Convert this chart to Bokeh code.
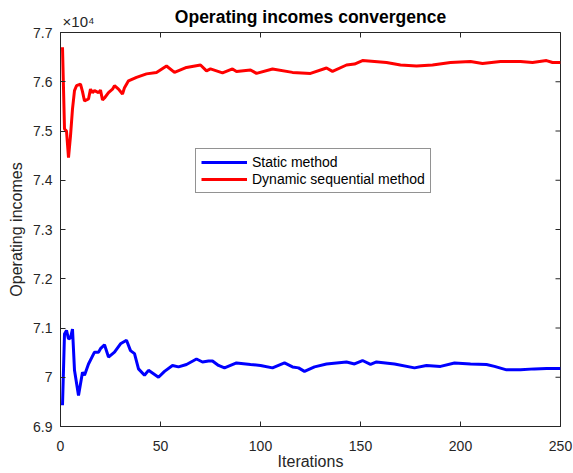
import math
from bokeh.plotting import figure
from bokeh.models import Range1d, FixedTicker, CustomJSTickFormatter, LinearAxis, ColumnDataSource
from bokeh.embed import file_html
from bokeh.resources import INLINE

# ---- data (operating incomes, actual units) ----
static_iter = [1, 2, 3, 4, 5, 6, 7, 9, 11, 12, 14, 17, 19, 20, 22, 24, 27, 30, 33, 35, 37, 39,
               42, 44, 49, 52, 56, 59, 63, 68, 71, 74, 76, 79, 82, 88, 95, 100, 106, 112, 116,
               119, 122, 127, 133, 143, 147, 151, 155, 158, 167, 177, 183, 190, 197, 205, 213,
               217, 223, 230, 237, 243, 250]
static_income = [69430, 70880, 70950, 70780, 70800, 70980, 70140, 69630, 70100, 70040, 70270,
                 70510, 70510, 70580, 70660, 70410, 70510, 70680, 70750, 70540, 70480, 70170,
                 70040, 70140, 70000, 70120, 70240, 70210, 70260, 70370, 70310, 70330, 70330,
                 70240, 70190, 70290, 70260, 70240, 70190, 70290, 70210, 70190, 70120, 70210,
                 70270, 70310, 70270, 70340, 70260, 70310, 70270, 70190, 70240, 70220, 70290,
                 70270, 70260, 70220, 70150, 70150, 70170, 70180, 70180]

dynamic_iter = [1, 2, 3, 4, 5, 6, 7, 8, 10, 11, 12, 14, 15, 16, 17, 19, 20, 21, 22, 24, 26, 27,
                29, 31, 32, 34, 38, 43, 48, 53, 57, 63, 70, 73, 75, 81, 86, 88, 95, 98, 106, 116,
                125, 133, 136, 143, 147, 151, 163, 170, 178, 186, 195, 205, 211, 220, 230, 236,
                243, 246, 250]
dynamic_income = [76700, 75040, 75000, 74460, 74900, 75450, 75820, 75920, 75950, 75800, 75610,
                  75650, 75850, 75780, 75820, 75780, 75830, 75630, 75670, 75780, 75850, 75920,
                  75850, 75750, 75880, 76020, 76090, 76160, 76190, 76320, 76190, 76290, 76340,
                  76220, 76260, 76180, 76260, 76210, 76240, 76170, 76260, 76190, 76170, 76280,
                  76210, 76340, 76360, 76430, 76390, 76340, 76320, 76340, 76390, 76410, 76370,
                  76410, 76410, 76390, 76430, 76390, 76390]

x_ticks = [0, 50, 100, 150, 200, 250]
y_ticks = [69000, 70000, 71000, 72000, 73000, 74000, 75000, 76000, 77000]
x_min, x_max = 0, 250
y_min, y_max = 69000, 77000
title_text = "Operating incomes convergence"

AX = "#262626"
FONT = "Liberation Sans"

p = figure(width=573, height=473, output_backend="svg", toolbar_location=None, title=None,
           x_range=Range1d(x_min, x_max), y_range=Range1d(y_min, y_max),
           min_border_left=60, min_border_right=13, min_border_top=32, min_border_bottom=47,
           background_fill_color="white", border_fill_color="white")
p.grid.visible = False
p.outline_line_color = AX
p.outline_line_width = 1

yfmt = CustomJSTickFormatter(code="return Number((tick/1e4).toFixed(1)).toString();")

for ax in p.xaxis:
    ax.ticker = FixedTicker(ticks=x_ticks)
    ax.axis_label = "Iterations"
for ax in p.yaxis:
    ax.ticker = FixedTicker(ticks=y_ticks)
    ax.formatter = yfmt
    ax.axis_label = "Operating incomes"

for ax in list(p.xaxis) + list(p.yaxis):
    ax.major_tick_in = 5
    ax.major_tick_out = 0
    ax.minor_tick_line_color = None
    ax.axis_line_color = AX
    ax.major_tick_line_color = AX
    ax.major_label_text_font = FONT
    ax.major_label_text_font_size = "14px"
    ax.major_label_text_color = AX
    ax.axis_label_text_font = FONT
    ax.axis_label_text_font_size = "16px"
    ax.axis_label_text_font_style = "normal"
    ax.axis_label_text_color = AX
p.yaxis.major_label_standoff = 8
p.yaxis.axis_label_standoff = 5
p.xaxis.major_label_standoff = 14
p.xaxis.axis_label_standoff = -1

# top axis: exponent note at the top-left corner, and the chart title (same row)
exp_anchor = x_min + 0.036 * (x_max - x_min)
top = LinearAxis(ticker=FixedTicker(ticks=[exp_anchor]),
                 formatter=CustomJSTickFormatter(code="return '\u00d710\u2074';"),
                 major_label_text_font=FONT, major_label_text_font_size="15px",
                 major_label_text_color=AX,
                 major_label_standoff=3, major_tick_in=0, major_tick_out=0,
                 major_tick_line_color=None, minor_tick_line_color=None, axis_line_color=AX,
                 axis_label=title_text, axis_label_standoff=-17,
                 axis_label_text_font=FONT, axis_label_text_font_size="17.5px",
                 axis_label_text_font_style="bold", axis_label_text_color="black")
p.add_layout(top, "above")

# box ticks on top and right edges
p.ray(x=x_ticks, y=[y_max] * len(x_ticks), length=5, length_units="screen",
      angle=-math.pi / 2, line_color=AX, line_width=1)
p.ray(x=[x_max] * len(y_ticks), y=y_ticks, length=5, length_units="screen",
      angle=math.pi, line_color=AX, line_width=1)

src_s = ColumnDataSource(dict(x=static_iter, y=static_income))
src_d = ColumnDataSource(dict(x=dynamic_iter, y=dynamic_income))
p.line("x", "y", source=src_s, line_color="#0000ff", line_width=3, legend_label="Static method")
p.line("x", "y", source=src_d, line_color="#ff0000", line_width=3, legend_label="Dynamic sequential method")

lg = p.legend[0]
lg.location = (135, 233)
lg.border_line_color = AX
lg.border_line_width = 1
lg.background_fill_color = "white"
lg.background_fill_alpha = 1
lg.label_text_font = FONT
lg.label_text_font_size = "14px"
lg.label_text_color = "black"
lg.glyph_width = 46
lg.glyph_height = 16
lg.label_height = 16
lg.label_standoff = 5
lg.padding = 5
lg.spacing = 1
lg.margin = 0

open("out.html", "w").write(file_html(p, INLINE))
